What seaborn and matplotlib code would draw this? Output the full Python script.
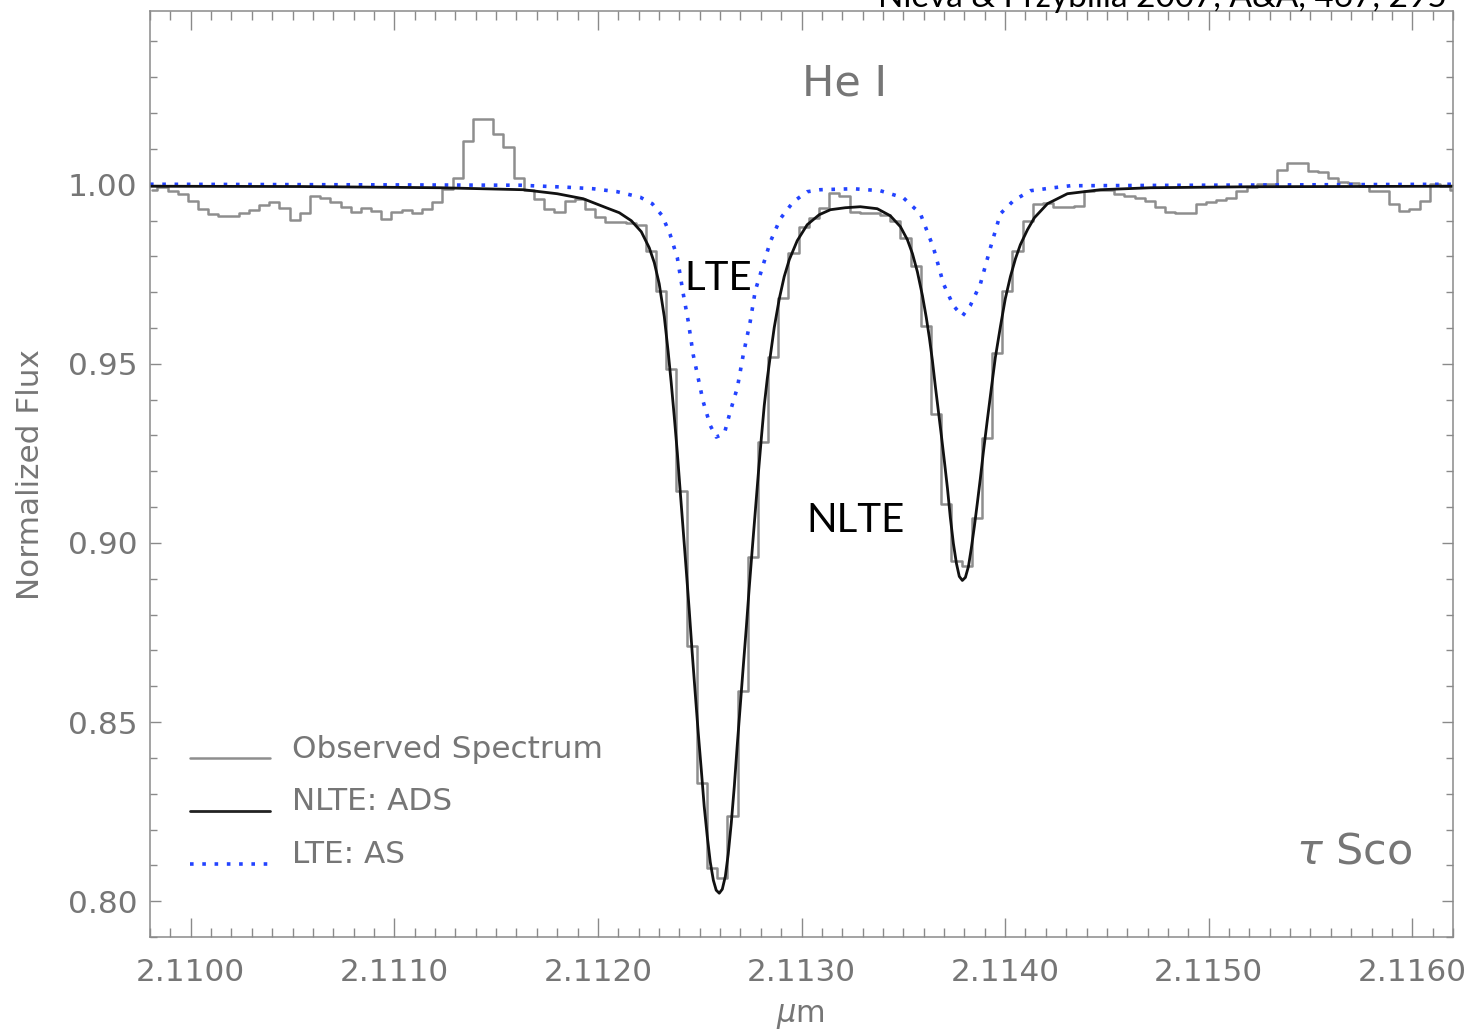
import numpy as np
import matplotlib
matplotlib.use("Agg")
import matplotlib.pyplot as plt
from matplotlib.lines import Line2D
from matplotlib.ticker import MultipleLocator, FormatStrFormatter
import seaborn as sns

# ---------------------------------------------------------------
# He I 2.1126 / 2.1138 micron region of tau Sco
# ---------------------------------------------------------------

# Observed spectrum: regular wavelength grid (micron), normalized flux per bin
obs_start = 2.109811
obs_bin = 0.00005
obs_flux = [
    0.9986, 0.9994, 0.9983, 0.9975, 0.9955, 0.9933, 0.9918, 0.9914, 0.9914, 0.9920,
    0.9929, 0.9944, 0.9953, 0.9936, 0.9902, 0.9922, 0.9969, 0.9964, 0.9953, 0.9937,
    0.9923, 0.9935, 0.9928, 0.9904, 0.9923, 0.9929, 0.9921, 0.9932, 0.9953, 0.9989,
    1.0020, 1.0123, 1.0183, 1.0183, 1.0141, 1.0104, 1.0020, 0.9986, 0.9960, 0.9932,
    0.9925, 0.9955, 0.9960, 0.9932, 0.9909, 0.9895, 0.9895, 0.9893, 0.9888, 0.9816,
    0.9704, 0.9487, 0.9144, 0.8711, 0.8329, 0.8092, 0.8064, 0.8237, 0.8586, 0.8960,
    0.9283, 0.9520, 0.9685, 0.9810, 0.9883, 0.9908, 0.9936, 0.9978, 0.9969, 0.9925,
    0.9922, 0.9922, 0.9916, 0.9900, 0.9852, 0.9774, 0.9607, 0.9361, 0.9110, 0.8951,
    0.8937, 0.9071, 0.9294, 0.9529, 0.9704, 0.9816, 0.9900, 0.9947, 0.9950, 0.9937,
    0.9937, 0.9941, 0.9983, 0.9986, 0.9986, 0.9975, 0.9969, 0.9964, 0.9955, 0.9937,
    0.9925, 0.9920, 0.9920, 0.9946, 0.9953, 0.9958, 0.9964, 0.9983, 0.9994, 1.0001,
    1.0003, 1.0042, 1.0061, 1.0060, 1.0038, 1.0036, 1.0020, 1.0008, 1.0006, 0.9997,
    0.9983, 0.9983, 0.9947, 0.9926, 0.9933, 0.9955, 1.0003, 0.9997, 0.9986,
]
obs_wave = obs_start + obs_bin * np.arange(len(obs_flux))

# NLTE model (ADS)
nlte_wave = [
    2.109800, 2.110537, 2.111225, 2.111633, 2.111800, 2.111928, 2.112041, 2.112105,
    2.112164, 2.112213, 2.112252, 2.112277, 2.112301, 2.112326, 2.112345, 2.112360,
    2.112375, 2.112390, 2.112404, 2.112419, 2.112434, 2.112449, 2.112463, 2.112478,
    2.112493, 2.112508, 2.112522, 2.112537, 2.112552, 2.112567, 2.112581, 2.112596,
    2.112611, 2.112626, 2.112640, 2.112655, 2.112670, 2.112684, 2.112699, 2.112714,
    2.112729, 2.112743, 2.112758, 2.112773, 2.112788, 2.112803, 2.112817, 2.112832,
    2.112847, 2.112866, 2.112891, 2.112915, 2.112940, 2.112979, 2.113028, 2.113087,
    2.113142, 2.113215, 2.113289, 2.113372, 2.113436, 2.113486, 2.113520, 2.113545,
    2.113569, 2.113594, 2.113613, 2.113628, 2.113643, 2.113657, 2.113672, 2.113687,
    2.113702, 2.113717, 2.113731, 2.113746, 2.113761, 2.113775, 2.113790, 2.113805,
    2.113820, 2.113834, 2.113849, 2.113864, 2.113879, 2.113893, 2.113913, 2.113933,
    2.113952, 2.113977, 2.114001, 2.114026, 2.114051, 2.114075, 2.114110, 2.114144,
    2.114208, 2.114306, 2.114468, 2.114714, 2.115205, 2.116200,
]
nlte_flux = [
    0.99958, 0.99950, 0.99916, 0.99861, 0.99749, 0.99609, 0.99358, 0.99219,
    0.98996, 0.98689, 0.98243, 0.97824, 0.97238, 0.96318, 0.95342, 0.94477,
    0.93529, 0.92524, 0.91464, 0.90349, 0.89233, 0.88089, 0.86946, 0.85802,
    0.84686, 0.83654, 0.82650, 0.81813, 0.81088, 0.80586, 0.80307, 0.80223,
    0.80335, 0.80697, 0.81311, 0.82176, 0.83208, 0.84324, 0.85439, 0.86555,
    0.87643, 0.88731, 0.89819, 0.90879, 0.91939, 0.92943, 0.93835, 0.94589,
    0.95230, 0.96011, 0.96820, 0.97434, 0.97908, 0.98438, 0.98884, 0.99163,
    0.99303, 0.99358, 0.99386, 0.99331, 0.99135, 0.98828, 0.98466, 0.98075,
    0.97573, 0.96904, 0.96290, 0.95732, 0.95091, 0.94393, 0.93696, 0.92999,
    0.92273, 0.91520, 0.90711, 0.89986, 0.89428, 0.89066, 0.88954, 0.89038,
    0.89344, 0.89847, 0.90460, 0.91130, 0.91827, 0.92524, 0.93445, 0.94338,
    0.95174, 0.96039, 0.96820, 0.97434, 0.97936, 0.98326, 0.98745, 0.99079,
    0.99470, 0.99749, 0.99861, 0.99916, 0.99944, 0.99958,
]

# LTE model (AS)
lte_wave = [
    2.109800, 2.111618, 2.111849, 2.111977, 2.112095, 2.112208, 2.112267, 2.112316,
    2.112355, 2.112390, 2.112419, 2.112444, 2.112468, 2.112493, 2.112517, 2.112552,
    2.112581, 2.112621, 2.112650, 2.112685, 2.112714, 2.112748, 2.112773, 2.112812,
    2.112847, 2.112896, 2.112960, 2.113028, 2.113092, 2.113255, 2.113387, 2.113500,
    2.113584, 2.113648, 2.113697, 2.113746, 2.113790, 2.113829, 2.113879, 2.113928,
    2.113977, 2.114041, 2.114124, 2.114237, 2.114321, 2.116200,
]
lte_flux = [
    1.00014, 0.99986, 0.99930, 0.99888, 0.99805, 0.99651, 0.99470, 0.99135,
    0.98605, 0.97964, 0.96960, 0.96178, 0.95258, 0.94589, 0.93947, 0.93278,
    0.92957, 0.93054, 0.93668, 0.94338, 0.95258, 0.96178, 0.97043, 0.97768,
    0.98410, 0.99052, 0.99526, 0.99805, 0.99861, 0.99888, 0.99833, 0.99637,
    0.99191, 0.98243, 0.97238, 0.96625, 0.96332, 0.96625, 0.97238, 0.98243,
    0.99191, 0.99554, 0.99833, 0.99916, 0.99972, 1.00014,
]

x_ticks = [2.1100, 2.1110, 2.1120, 2.1130, 2.1140, 2.1150, 2.1160]
y_ticks = [0.80, 0.85, 0.90, 0.95, 1.00]

legend_labels = ["Observed Spectrum", "NLTE: ADS", "LTE: AS"]

# ---------------------------------------------------------------
sns.set_theme(style="ticks")
plt.rcParams["font.family"] = ["DejaVu Sans"]
plt.rcParams["mathtext.fontset"] = "dejavusans"

GREY_TXT = "#767676"
GREY_AX = "#8a8a8a"
OBS_C = "#8e8e8e"
NLTE_C = "#111111"
LTE_C = "#2343ff"
LTE_LS = (0, (1, 2.4))
LABEL_FONT = ["Lato", "DejaVu Sans"]

fig = plt.figure(figsize=(14.8, 10.34), dpi=100)
ax = fig.add_axes([150 / 1480, 97 / 1034, 1303 / 1480, 926 / 1034])

sns.lineplot(x=obs_wave, y=obs_flux, ax=ax, color=OBS_C, linewidth=1.8,
             drawstyle="steps-mid", estimator=None, sort=False)
sns.lineplot(x=lte_wave, y=lte_flux, ax=ax, color=LTE_C, linewidth=2.6,
             linestyle=LTE_LS, estimator=None, sort=False)
sns.lineplot(x=nlte_wave, y=nlte_flux, ax=ax, color=NLTE_C, linewidth=2.0,
             estimator=None, sort=False)

ax.set_xlim(2.1098, 2.1162)
ax.set_ylim(0.79, 1.0485)

ax.set_xticks(x_ticks)
ax.xaxis.set_major_formatter(FormatStrFormatter("%.4f"))
ax.xaxis.set_minor_locator(MultipleLocator(0.0001))
ax.set_yticks(y_ticks)
ax.yaxis.set_major_formatter(FormatStrFormatter("%.2f"))
ax.yaxis.set_minor_locator(MultipleLocator(0.01))

ax.tick_params(which="both", direction="in", top=True, right=True,
               color=GREY_AX, labelcolor=GREY_TXT, labelsize=22.4, width=1.0)
ax.tick_params(axis="x", which="major", length=14, pad=15)
ax.tick_params(axis="x", which="minor", length=6.5)
ax.tick_params(axis="y", which="major", length=8, pad=9)
ax.tick_params(axis="y", which="minor", length=5)

for sp in ax.spines.values():
    sp.set_color(GREY_AX)
    sp.set_linewidth(1.1)

ax.set_xlabel(r"$\mu$m", color=GREY_TXT, fontsize=22)
ax.xaxis.set_label_coords(0.4989, -0.070)
ax.set_ylabel("Normalized Flux", color=GREY_TXT, fontsize=22.4)
ax.yaxis.set_label_coords(-0.0805, 0.499)

# annotations
ax.text(0.5334, 0.9212, "He I", transform=ax.transAxes, ha="center", va="center",
        fontsize=31, color=GREY_TXT)
ax.text(0.924, 0.0918, r"$\tau$ Sco", transform=ax.transAxes, ha="center", va="center",
        fontsize=31, color=GREY_TXT)
ax.text(0.4359, 0.7106, "LTE", transform=ax.transAxes, ha="center", va="center",
        fontsize=29, color="black", family=LABEL_FONT)
ax.text(0.5418, 0.4503, "NLTE", transform=ax.transAxes, ha="center", va="center",
        fontsize=29, color="black", family=LABEL_FONT)

fig.text(1447 / 1480, 1 - 7 / 1034, "Nieva & Przybilla 2007, A&A, 467, 295",
         ha="right", va="baseline", fontsize=24, color="black", family=LABEL_FONT)

# legend
leg_styles = [
    dict(color=OBS_C, linewidth=1.8, linestyle="-"),
    dict(color="#222222", linewidth=2.0, linestyle="-"),
    dict(color=LTE_C, linewidth=2.6, linestyle=LTE_LS),
]
leg_line_y = [0.1933, 0.1360, 0.0788]
leg_text_y = [0.2030, 0.1458, 0.0886]
for lab, st, yl, yt in zip(legend_labels, leg_styles, leg_line_y, leg_text_y):
    ax.add_line(Line2D([0.0307, 0.0921], [yl, yl], transform=ax.transAxes, **st))
    ax.text(0.109, yt, lab, transform=ax.transAxes, ha="left", va="center",
            fontsize=22.4, color=GREY_TXT)

fig.savefig("out.png", dpi=100)
